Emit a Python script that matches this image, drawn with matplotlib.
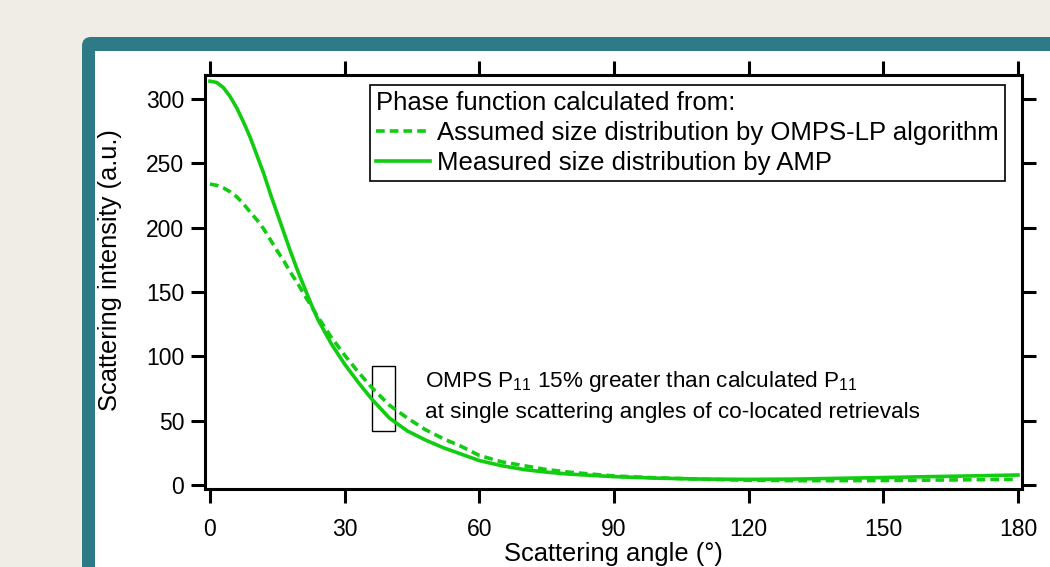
import matplotlib
matplotlib.use("Agg")
import matplotlib.pyplot as plt
from matplotlib.patches import Rectangle, FancyBboxPatch
from matplotlib.lines import Line2D
from matplotlib.transforms import IdentityTransform

plt.rcParams['font.family'] = ['Liberation Sans', 'DejaVu Sans']
plt.rcParams['mathtext.fontset'] = 'custom'
plt.rcParams['mathtext.rm'] = 'Liberation Sans'
plt.rcParams['mathtext.it'] = 'Liberation Sans:italic'

# Scattering angle (deg) and phase function values
angles = [0, 1.5, 3, 4.5, 6, 7.5, 9, 10.5, 12, 13.5, 15, 16.5, 18, 19.5, 21, 22.5, 24,
          27, 30, 33, 36, 40, 44, 48, 52, 56, 60,
          65, 70, 75, 80, 90, 100, 110, 120, 130, 140, 150, 160, 170, 180]
measured_amp = [314, 313, 309, 302, 293, 282, 270, 256, 242, 226, 211, 196, 181, 167,
                154, 141, 129, 110, 94, 80, 67, 52, 42, 35, 29, 24, 19,
                15, 12, 10, 8.5, 6.5, 5.3, 4.6, 4.4, 4.6, 5.2, 5.8, 6.5, 7.1, 7.8]
assumed_omps = [234, 233, 231, 228, 224, 218.5, 212, 206, 199, 190.5, 182, 174, 165,
                157, 148, 139.5, 131, 115, 101, 88, 76, 62, 52, 43, 36, 30, 23,
                18, 15, 12, 10, 7, 5.5, 4.5, 3.7, 3.4, 3.4, 3.5, 3.8, 4.1, 4.5]

# highlighted angle range of the co-located retrievals
box_x = [36.1, 41.2]
box_y = [42, 92.5]

xticks = [0, 30, 60, 90, 120, 150, 180]
yticks = [0, 50, 100, 150, 200, 250, 300]

green = '#11cc11'
dash = (0, (2.4, 1.4))

fig = plt.figure(figsize=(10.5, 5.67), dpi=100)
fig.patch.set_facecolor('#f0ede6')

# teal card frame behind the chart (pixel coordinates)
frame = FancyBboxPatch((82, -60), 1100, 590, boxstyle='round,pad=0,rounding_size=9',
                       transform=IdentityTransform(), facecolor='#2e7a87',
                       edgecolor='none', zorder=-2)
fig.patches.append(frame)
inner = Rectangle((95, -60), 1100, 576, transform=IdentityTransform(),
                  facecolor='white', edgecolor='none', zorder=-1)
fig.patches.append(inner)

ax = fig.add_axes([205 / 1050, 1 - 489 / 567, 817 / 1050, 414 / 567])
ax.set_zorder(2)
ax.set_facecolor('white')

ax.plot(angles, assumed_omps, color=green, lw=2.6, linestyle=dash)
ax.plot(angles, measured_amp, color=green, lw=2.6)

ax.add_patch(Rectangle((box_x[0], box_y[0]), box_x[1] - box_x[0], box_y[1] - box_y[0],
                       fill=False, edgecolor='black', lw=1.0))

ax.text(47.9, 76.4, 'OMPS P$_{11}$ 15% greater than calculated P$_{11}$',
        fontsize=16.2, va='baseline', ha='left')
ax.text(47.9, 52, 'at single scattering angles of co-located retrievals',
        fontsize=16.2, va='baseline', ha='left')

ax.set_xlim(-1.1, 180.9)
ax.set_ylim(-3.1, 318.8)
ax.set_xticks(xticks)
ax.set_yticks(yticks)

for side in ['left', 'right', 'top', 'bottom']:
    ax.spines[side].set_linewidth(2.2)
ax.tick_params(direction='out', length=10, width=2.2, labelsize=16.5,
               top=True, right=True, labeltop=False, labelright=False)
ax.tick_params(axis='y', pad=5)
ax.tick_params(axis='x', pad=11)

ax.set_xlabel('Scattering angle (°)', fontsize=18.4, va='top')
ax.set_ylabel('Scattering intensity (a.u.)', fontsize=18.4)
ax.xaxis.set_label_coords(0.5, -0.129)
ax.yaxis.set_label_coords(-0.102, 0.53)

handles = [Line2D([], [], color=green, lw=2.6, linestyle=dash),
           Line2D([], [], color=green, lw=2.6)]
labels = ['Assumed size distribution by OMPS-LP algorithm',
          'Measured size distribution by AMP']
leg = ax.legend(handles, labels, title='Phase function calculated from:',
                loc='upper left', bbox_to_anchor=(0.202, 0.976), borderaxespad=0,
                fontsize=18.5, title_fontsize=18.5, alignment='left', fancybox=False,
                framealpha=1, edgecolor='black', handlelength=2.1,
                handletextpad=0.3, labelspacing=0.24, borderpad=0.22)
leg.get_frame().set_linewidth(1.2)

fig.savefig('out.png', dpi=100, facecolor=fig.get_facecolor())
